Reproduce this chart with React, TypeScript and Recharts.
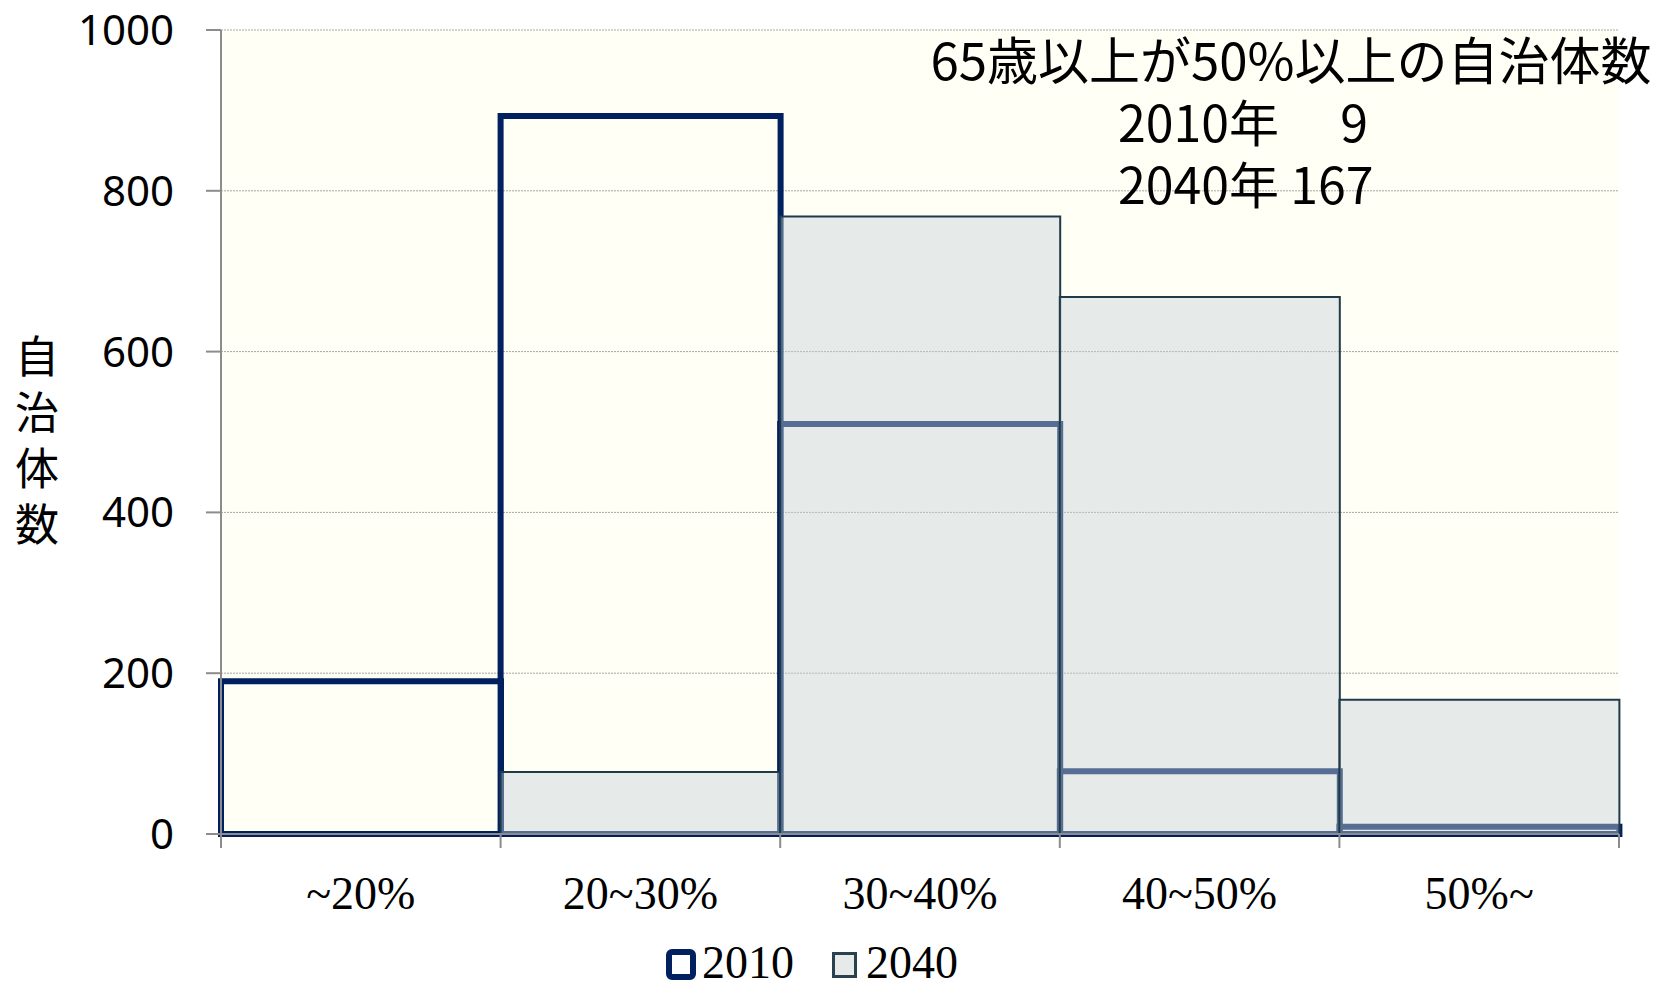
import React from 'react';
import { ComposedChart, Bar, XAxis, YAxis, CartesianGrid, Customized } from 'recharts';

const categories = ['~20%', '20~30%', '30~40%', '40~50%', '50%~'];
const values2010 = [190, 893, 510, 78, 9];
const values2040 = [0, 77, 768, 668, 167];
const yTicks = [0, 200, 400, 600, 800, 1000];
const seriesNames = ['2010', '2040'];
const yAxisLabelChars = ['自', '治', '体', '数'];
const noteLines = ['65歳以上が50%以上の自治体数', '2010年\u3000 9', '2040年 167'];

const data = categories.map((c, i) => ({ cat: c, v2010: values2010[i], v2040: values2040[i] }));

const W = 1676;
const H = 985;
const MARGIN = { top: 30, right: 57, bottom: 51, left: 121 };
const YAXIS_W = 100;
const XAXIS_H = 100;
const PLOT_LEFT = MARGIN.left + YAXIS_W;
const PLOT_RIGHT = W - MARGIN.right;
const BAND = (PLOT_RIGHT - PLOT_LEFT) / categories.length;

const NAVY = '#00205f';
const FILL2040 = 'rgb(198,209,216)';
const STROKE2040 = '#1f3a48';
const SERIF = '"Liberation Serif", "Times New Roman", serif';
const SANS = '"Noto Sans", "DejaVu Sans", sans-serif';
const CJK = '"Noto Sans CJK JP", "Noto Sans", sans-serif';

const XTick = (props: any) => {
  const { x, y, payload } = props;
  const idx = categories.indexOf(payload.value);
  const half = BAND / 2;
  return (
    <g>
      <line x1={x - half} x2={x - half} y1={y} y2={y + 14} stroke="#8c8c8c" strokeWidth={2} />
      {idx === categories.length - 1 && (
        <line x1={x + half} x2={x + half} y1={y} y2={y + 14} stroke="#8c8c8c" strokeWidth={2} />
      )}
      <text x={x} y={y + 75} textAnchor="middle" fontFamily={SERIF} fontSize={46} fill="#000">
        {payload.value}
      </text>
    </g>
  );
};

const Extras = () => (
  <g>
    {yAxisLabelChars.map((ch, i) => (
      <text key={ch} x={37} y={354 + i * 56} textAnchor="middle" dominantBaseline="central"
        fontFamily={CJK} fontSize={44} fill="#000">{ch}</text>
    ))}
    <text x={1291} y={80} textAnchor="middle" fontFamily={CJK} fontSize={51} fill="#000">{noteLines[0]}</text>
    <text x={1118} y={142} textAnchor="start" fontFamily={CJK} fontSize={50} fill="#000" style={{ whiteSpace: 'pre' }}>{noteLines[1]}</text>
    <text x={1118} y={204} textAnchor="start" fontFamily={CJK} fontSize={50} fill="#000">{noteLines[2]}</text>
    {/* legend */}
    <rect x={669} y={952} width={24} height={25} rx={3} fill="#ffffff" stroke={NAVY} strokeWidth={6} />
    <text x={702} y={978} fontFamily={SERIF} fontSize={46} fill="#000">{seriesNames[0]}</text>
    <rect x={833.5} y={953.5} width={22} height={23} fill="#e6ebe9" stroke="#2a4250" strokeWidth={3} />
    <text x={866} y={978} fontFamily={SERIF} fontSize={46} fill="#000">{seriesNames[1]}</text>
  </g>
);

export default function App() {
  return (
    <div style={{ position: 'absolute', left: 0, top: 0, width: W, height: H, background: '#fff' }}>
      <ComposedChart width={W} height={H} data={data} margin={MARGIN} barCategoryGap={0} barGap={0}>
        <CartesianGrid xAxisId="a" vertical={false} fill="#fffff6" stroke="#a6a6a6" strokeDasharray="2 1" strokeWidth={1} />
        <XAxis xAxisId="a" dataKey="cat" height={XAXIS_H} axisLine={{ stroke: '#8c8c8c', strokeWidth: 2 }}
          tickLine={false} tickSize={0} tickMargin={0} tick={<XTick />} interval={0} />
        <XAxis xAxisId="b" dataKey="cat" hide />
        <YAxis width={YAXIS_W} domain={[0, 1000]} ticks={yTicks} interval={0}
          axisLine={{ stroke: '#8c8c8c', strokeWidth: 2 }} tickLine={{ stroke: '#8c8c8c', strokeWidth: 2 }}
          tickSize={15} tickMargin={32}
          tick={{ fontFamily: SANS, fontSize: 42, fill: '#000' }} />
        <Bar xAxisId="a" dataKey="v2010" name={seriesNames[0]} fill="none" stroke={NAVY} strokeWidth={6} isAnimationActive={false} />
        <Bar xAxisId="b" dataKey="v2040" name={seriesNames[1]} fill={FILL2040} fillOpacity={0.44} stroke={STROKE2040} strokeWidth={2} isAnimationActive={false} />
        <Customized component={Extras} />
      </ComposedChart>
    </div>
  );
}
